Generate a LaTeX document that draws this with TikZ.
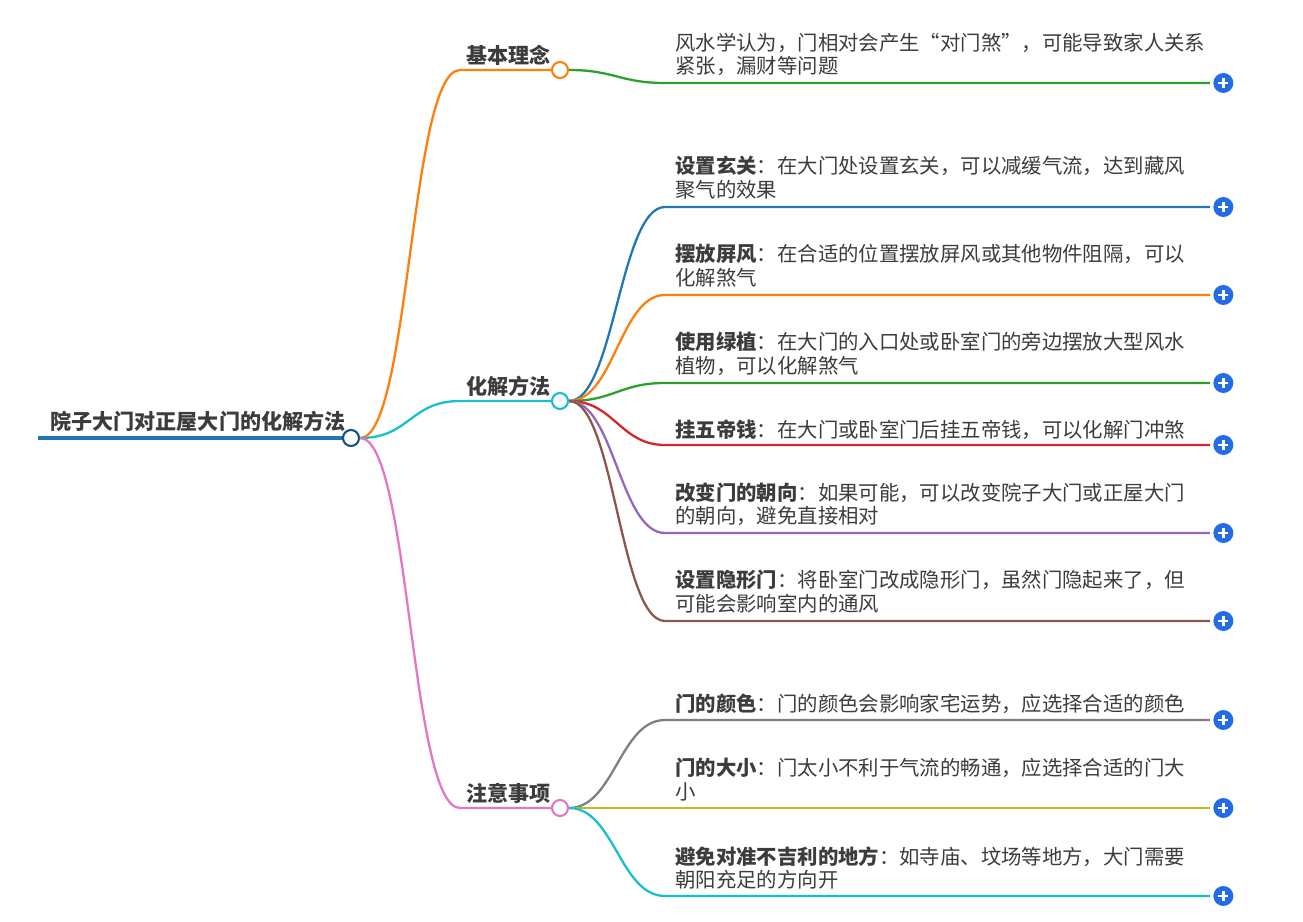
\documentclass[tikz,border=0pt]{standalone}
\usepackage{fontspec}
\setmainfont{Noto Sans CJK SC}
\usetikzlibrary{positioning}
\definecolor{cBlue}{RGB}{31,119,180}
\definecolor{cOrange}{RGB}{255,127,14}
\definecolor{cGreen}{RGB}{44,160,44}
\definecolor{cRed}{RGB}{214,39,40}
\definecolor{cPurple}{RGB}{148,103,189}
\definecolor{cBrown}{RGB}{140,86,75}
\definecolor{cPink}{RGB}{227,119,194}
\definecolor{cGray}{RGB}{127,127,127}
\definecolor{cOlive}{RGB}{188,189,34}
\definecolor{cCyan}{RGB}{23,190,207}
\definecolor{cPlus}{RGB}{36,107,230}
\definecolor{cText}{RGB}{60,60,60}

\begin{document}
\begin{tikzpicture}[
    x=0.02cm, y=-0.02cm,
    hub/.style={circle, draw=#1, fill=white, line width=1.2pt, minimum size=16*0.02cm, inner sep=0pt},
    plusdot/.style={circle, fill=cPlus, minimum size=20*0.02cm, inner sep=0pt,
        path picture={\draw[white, line width=1.3pt] (path picture bounding box.center) ++(-5,0) -- ++(10,0)
            (path picture bounding box.center) ++(0,-5) -- ++(0,10);}},
    topic/.style={font=\fontsize{12}{14}\selectfont\bfseries, text=cText, inner sep=0pt, anchor=south west},
    leaf/.style={font=\fontsize{11.6}{13.2}\selectfont, text=cText, inner sep=0pt, anchor=north west, align=left},
    link/.style={line width=1.3pt}
]
    \useasboundingbox (0,0) rectangle (1303,922);

    % root
    \node[topic] (root) at (50,432) {院子大门对正屋大门的化解方法};
    \draw[cBlue, line width=2.5pt] (38,438) -- (343,438);
    \node[hub=cBlue!70!black] (rootdot) at (351,438) {};

    % topics
    \node[topic] (basic) at (466,66) {基本理念};
    \node[topic] (method) at (466,397) {化解方法};
    \node[topic] (notes) at (466,804) {注意事项};
    \draw[link, cOrange] (rootdot.east) .. controls (410,438) and (410,70) .. (460,70) -- (552,70);
    \draw[link, cCyan] (rootdot.east) .. controls (410,438) and (410,401) .. (460,401) -- (552,401);
    \draw[link, cPink] (rootdot.east) .. controls (410,438) and (410,808) .. (460,808) -- (552,808);
    \node[hub=cOrange] (basicdot) at (560,70) {};
    \node[hub=cCyan] (methoddot) at (560,401) {};
    \node[hub=cPink] (notesdot) at (560,808) {};

    % leaves
    \node[leaf] (l1) at (675,33) {风水学认为，门相对会产生“对门煞”，可能导致家人关系\\紧张，漏财等问题};
    \node[leaf] (l2) at (675,156) {\textbf{设置玄关}：在大门处设置玄关，可以减缓气流，达到藏风\\聚气的效果};
    \node[leaf] (l3) at (675,244) {\textbf{摆放屏风}：在合适的位置摆放屏风或其他物件阻隔，可以\\化解煞气};
    \node[leaf] (l4) at (675,332) {\textbf{使用绿植}：在大门的入口处或卧室门的旁边摆放大型风水\\植物，可以化解煞气};
    \node[leaf] (l5) at (675,420) {\textbf{挂五帝钱}：在大门或卧室门后挂五帝钱，可以化解门冲煞};
    \node[leaf] (l6) at (675,482) {\textbf{改变门的朝向}：如果可能，可以改变院子大门或正屋大门\\的朝向，避免直接相对};
    \node[leaf] (l7) at (675,570) {\textbf{设置隐形门}：将卧室门改成隐形门，虽然门隐起来了，但\\可能会影响室内的通风};
    \node[leaf] (l8) at (675,694) {\textbf{门的颜色}：门的颜色会影响家宅运势，应选择合适的颜色};
    \node[leaf] (l9) at (675,758) {\textbf{门的大小}：门太小不利于气流的畅通，应选择合适的门大\\小};
    \node[leaf] (l10) at (675,846) {\textbf{避免对准不吉利的地方}：如寺庙、坟场等地方，大门需要\\朝阳充足的方向开};

    % leaf connectors
    \foreach \src/\y/\col/\n in {basicdot/83/cGreen/1, methoddot/207/cBlue/2, methoddot/295/cOrange/3,
        methoddot/383/cGreen/4, methoddot/445/cRed/5, methoddot/533/cPurple/6, methoddot/621/cBrown/7,
        notesdot/720/cGray/8, notesdot/808/cOlive/9, notesdot/896/cCyan/10} {
        \coordinate (e\n) at (1210,\y);
        \draw[link, \col] (\src.east) .. controls +(45,0) and (620,\y) .. (665,\y) -- (e\n);
        \node[plusdot, right=0pt of e\n, xshift=0.06cm] (p\n) {};
    }
\end{tikzpicture}
\end{document}
